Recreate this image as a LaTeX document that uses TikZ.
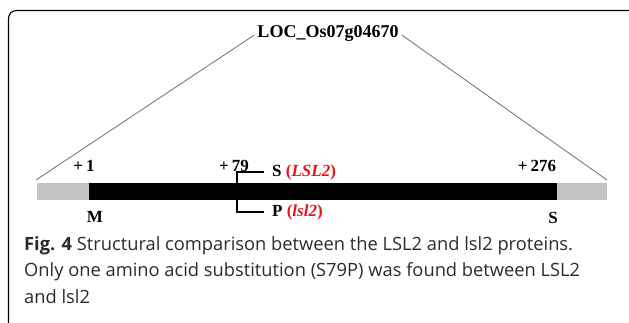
\documentclass[tikz,border=0pt]{standalone}
\usepackage{fontspec}
\setmainfont{Liberation Serif}
\newfontfamily\capfont{Open Sans}
\usetikzlibrary{calc}
\definecolor{utr}{HTML}{C3C3C3}
\definecolor{cds}{HTML}{000000}
\definecolor{hinweis}{HTML}{E8141B}
\definecolor{linie}{HTML}{6E6E6E}
\definecolor{captxt}{HTML}{2B2B2B}
\tikzset{
  rahmen/.style={draw=black,line width=1.1pt,rounded corners=8pt},
  lbl/.style={font=\fontsize{17}{20}\selectfont\bfseries,inner sep=0pt},
  fuehr/.style={linie,line width=0.8pt},
  klammer/.style={black,line width=1.1pt},
}

\begin{document}
\begin{tikzpicture}[x=1pt,y=-1pt]
  \useasboundingbox (0,0) rectangle (629,322);
  \clip (0,0) rectangle (629,322);
  \draw[rahmen] (8.5,10.5) rectangle (680,340);
  \fill[utr] (37,183) rectangle (89,200);
  \fill[cds] (89,182.5) rectangle (557,200);
  \fill[utr] (557,183) rectangle (607,200);
  \coordinate (utrL) at (36,180);
  \coordinate (utrR) at (607,180);
  \node[lbl,font=\fontsize{18}{20}\selectfont\bfseries] (loc) at (328,33) {LOC\_Os07g04670};
  \draw[fuehr] ([xshift=-3pt,yshift=-2pt]loc.west) -- (utrL);
  \draw[fuehr] ([xshift=3pt,yshift=-2pt]loc.east) -- (utrR);
  \node[lbl] (p1) at (84,166) {+\,1};
  \node[lbl] (p79) at (234,166) {+\,79};
  \node[lbl] (p276) at (537,166) {+\,276};
  \node[lbl] (aaM) at (95,217) {M};
  \node[lbl] (aaS) at (553,218) {S};
  \node[lbl,anchor=west] (wt) at (272,172) {S \textcolor{hinweis}{(\textit{LSL2})}};
  \node[lbl,anchor=west] (mt) at (272,212) {P \textcolor{hinweis}{(\textit{lsl2})}};
  \coordinate (kink) at (237,191);
  \draw[klammer] ([xshift=-8pt]wt.west) -| (kink) |- ([xshift=-8pt]mt.west);
  \node[anchor=north west,inner sep=0pt,align=left,text=captxt,
    font=\capfont\fontsize{18.3}{26.5}\selectfont] (cap) at (24,236)
    {\textbf{Fig. 4} Structural comparison between the LSL2 and lsl2 proteins.\\
     Only one amino acid substitution (S79P) was found between LSL2\\
     and lsl2};
\end{tikzpicture}
\end{document}
